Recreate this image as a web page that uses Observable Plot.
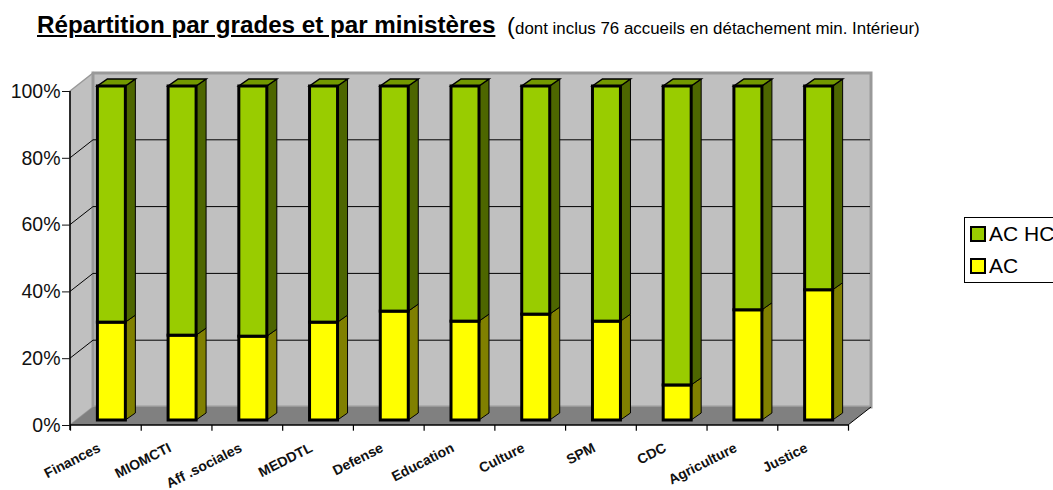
<!DOCTYPE html>
<html><head><meta charset="utf-8">
<script src="https://cdn.jsdelivr.net/npm/d3@7"></script>
<script src="https://cdn.jsdelivr.net/npm/@observablehq/plot@0.6"></script>
<style>
html,body{margin:0;padding:0;background:#fff;width:1053px;height:490px;overflow:hidden;font-family:"Liberation Sans",Arial,sans-serif;color:#000}
#head{height:60px;position:relative}
#title{position:absolute;left:37px;top:11px;font-size:24.2px;font-weight:bold;text-decoration:underline;white-space:nowrap}
#sub{position:absolute;left:507px;top:12px;font-size:16.9px;white-space:nowrap}
#sub b{font-weight:normal;font-size:24px}
#legend{position:absolute;left:964px;top:217px;width:100px;height:66px;box-sizing:border-box;border:1px solid #000;background:#fff;font-size:21px}
.it{position:absolute;left:5px;white-space:nowrap;line-height:24px}
.sw{display:inline-block;width:12px;height:12px;border:2.5px solid #000;margin-right:3px;vertical-align:-1px}
</style></head><body>
<div id="head"><div id="title">Répartition par grades et par ministères</div>
<div id="sub"><b>(</b>dont inclus 76 accueils en détachement min. Intérieur)</div></div>
<div id="chart"></div>
<div id="legend"></div>
<script>
const ministeres = ["Finances","MIOMCTI","Aff .sociales","MEDDTL","Defense","Education","Culture","SPM","CDC","Agriculture","Justice"];
const acValues   = [29.3,25.4,25.1,29.3,32.6,29.6,31.7,29.6,10.5,33,39];
const acHcValues = [70.7,74.6,74.9,70.7,67.4,70.4,68.3,70.4,89.5,67,61];
const serieNames = ["AC","AC HC"];
const serieColors = ["#ffff00","#99cc00"];
const sideColors = ["#808000","#4d6600"];
const topColor = "#739900";
const yTicks = [0,20,40,60,80,100];

const rows = [
  ...ministeres.map((m,i)=>({m,serie:"AC",v:acValues[i]})),
  ...ministeres.map((m,i)=>({m,serie:"AC HC",v:acHcValues[i]}))
];

const W = 23, H = 18;      // wall depth in pixels
const BW = 28, BX = 6, BY = -5, DX = 10, DY = -7; // bar geometry

function poly(g, pts, fill, stroke, sw){
  g.append("polygon").attr("points",pts.map(p=>p.join(",")).join(" "))
    .attr("fill",fill).attr("stroke",stroke||"none").attr("stroke-width",sw||0);
}
function line(g,x1,y1,x2,y2,stroke,sw){
  g.append("line").attr("x1",x1).attr("y1",y1).attr("x2",x2).attr("y2",y2).attr("stroke",stroke).attr("stroke-width",sw||1);
}
function walls(index,{x,y}){
  const g = d3.create("svg:g");
  const x0 = x(ministeres[0]), x1 = x(ministeres[10]) + x.bandwidth();
  const y0 = y(0), y1 = y(100);
  poly(g,[[x0,y0],[x0+W,y0-H],[x0+W,y1-H],[x0,y1]],"#c0c0c0","#999",1.5);
  poly(g,[[x0+W,y0-H],[x1+W,y0-H],[x1+W,y1-H],[x0+W,y1-H]],"#c0c0c0","#999",3);
  poly(g,[[x0,y0],[x1,y0],[x1+W,y0-H],[x0+W,y0-H]],"#808080");
  for(const t of yTicks.slice(1,-1)){
    line(g,x0,y(t),x0+W,y(t)-H,"#000");
    line(g,x0+W,y(t)-H,x1+W-1,y(t)-H,"#000");
  }
  line(g,x0,y0+5,x0,y1,"#000",1.5);
  line(g,x0,y0,x1,y0,"#000",1.5);
  line(g,x1,y0,x1+W,y0-H,"#000",1);
  return g.node();
}
function faces(index,{x,y}){
  const g = d3.create("svg:g");
  ministeres.forEach((m,i)=>{
    const l = x(m) + (x.bandwidth()-BW)/2 + BX, r = l + BW;
    const a = acValues[i], t = a + acHcValues[i];
    const ya = y(a)+BY, y0 = y(0)+BY, yt = y(t)+BY;
    poly(g,[[r,y0],[r+DX,y0+DY],[r+DX,ya+DY],[r,ya]],sideColors[0],"#000",1);
    poly(g,[[r,ya],[r+DX,ya+DY],[r+DX,yt+DY],[r,yt]],sideColors[1],"#000",1);
    poly(g,[[l,yt],[r,yt],[r+DX,yt+DY],[l+DX,yt+DY]],topColor,"#000",1.5);
  });
  return g.node();
}
const step = 778/11;
const plot = Plot.plot({
  width:1053, height:430,
  marginLeft:70, marginRight:205, marginTop:31, marginBottom:65,
  style:{background:"transparent",fontFamily:"'Liberation Sans',Arial,sans-serif",overflow:"visible"},
  x:{type:"band",domain:ministeres,padding:0,round:false,label:null},
  y:{domain:[0,100],label:null},
  color:{domain:serieNames,range:serieColors},
  marks:[
    walls,
    faces,
    Plot.barY(rows,{x:"m",y:"v",fill:"serie",order:serieNames,stroke:"#000",strokeWidth:3,
      insetLeft:(step-BW)/2,insetRight:(step-BW)/2,dx:BX,dy:BY}),
    Plot.ruleX(ministeres,{x:d=>d,y1:0,y2:-1.7,dx:-step/2,stroke:"#000",strokeWidth:1.2}),
    Plot.ruleX(ministeres.slice(-1),{x:d=>d,y1:0,y2:-1.7,dx:step/2,stroke:"#000",strokeWidth:1.2}),
    Plot.axisY({ticks:yTicks,tickFormat:d=>d+"%",tickSize:8,tickPadding:2,fontSize:19.5,label:null,color:"#111"}),
    Plot.axisX({tickSize:0,tickRotate:-27,textAnchor:"end",fontSize:14,fontWeight:"bold",label:null,dx:-9,dy:4,lineAnchor:"top",color:"#111"})
  ]
});
document.getElementById("chart").appendChild(plot);

const legend = document.getElementById("legend");
[[1,0],[0,1]].forEach(([s,r])=>{
  const it = document.createElement("div");
  it.className = "it"; it.style.top = (4+r*32)+"px";
  const sw = document.createElement("span");
  sw.className = "sw"; sw.style.background = serieColors[s];
  it.appendChild(sw);
  it.appendChild(document.createTextNode(serieNames[s]));
  legend.appendChild(it);
});
</script>
</body></html>
